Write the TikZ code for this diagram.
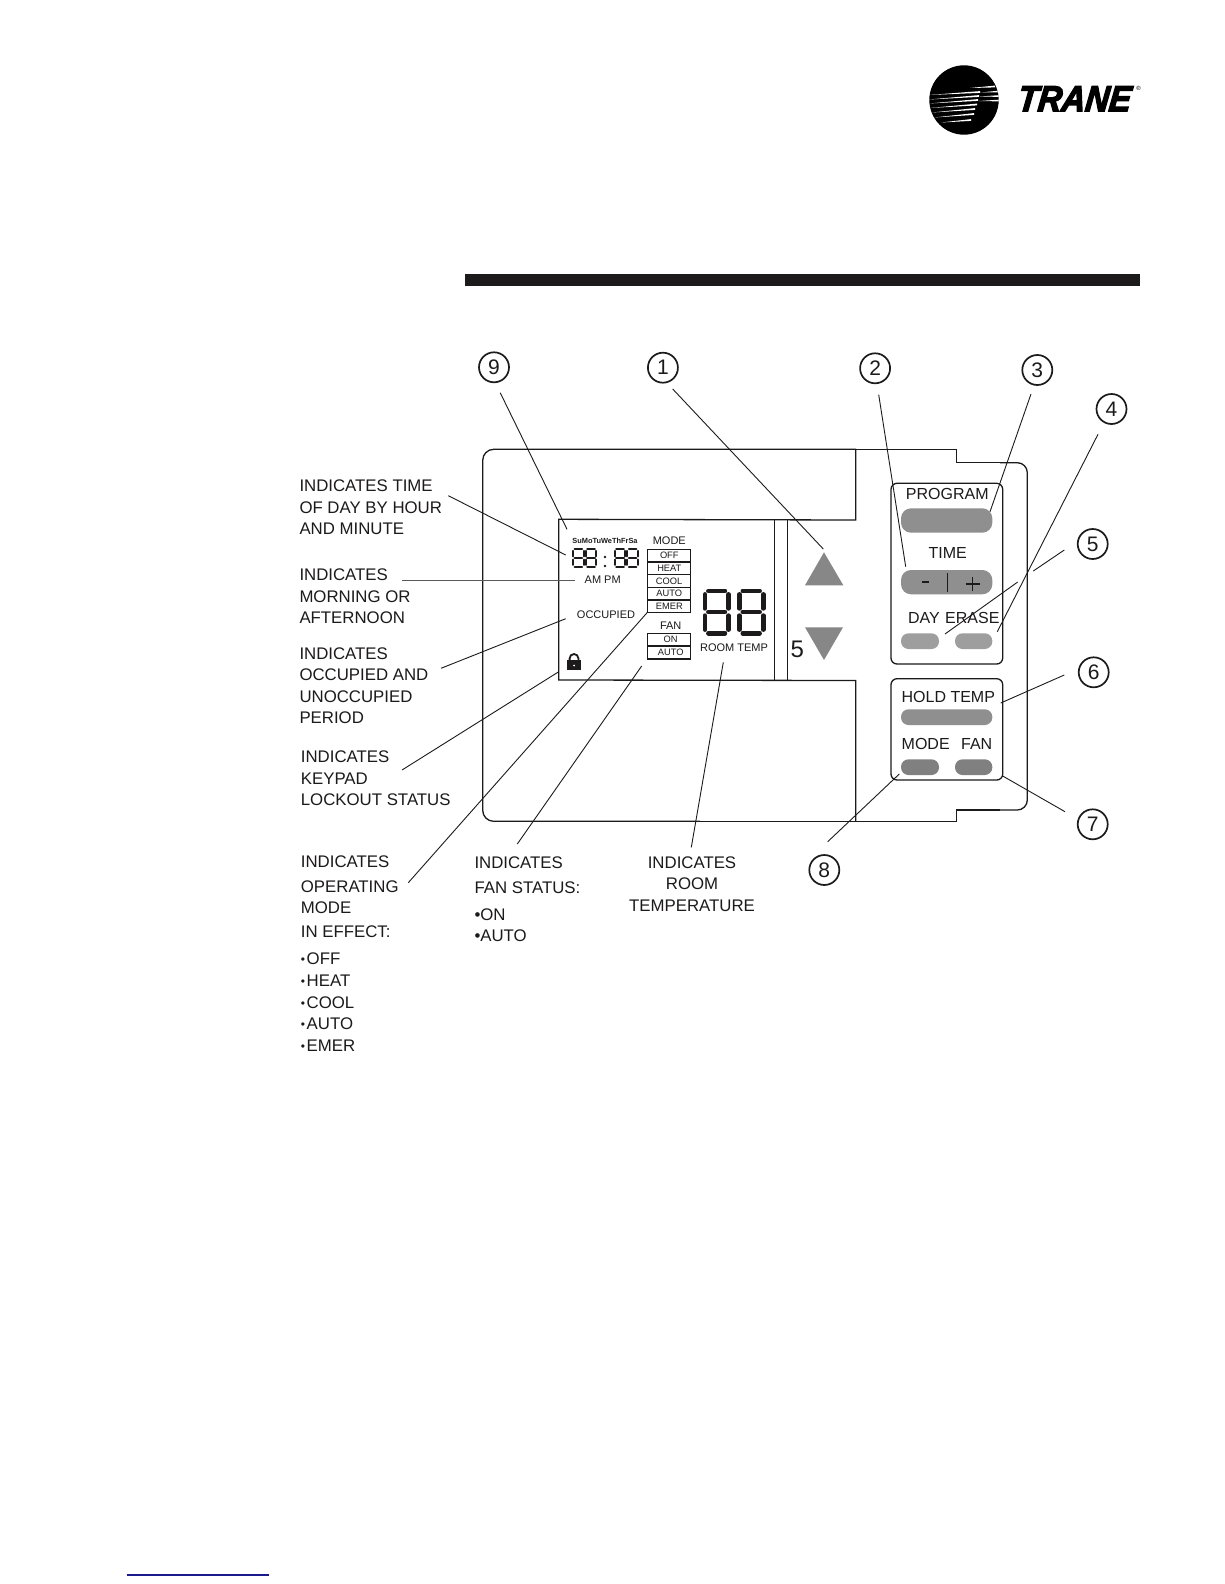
\documentclass[tikz,border=0pt]{standalone}
\usepackage{fontspec}
\setmainfont{Liberation Sans}
\newfontfamily\tranefont[BoldItalicFeatures={FakeBold=4,FakeSlant=0.12}]{Liberation Sans}
\usetikzlibrary{calc}
\definecolor{ink}{HTML}{1C1A1B}
\tikzset{
  lab/.style={anchor=base west,inner sep=0pt,text=ink,font=\fontsize{16.8}{20}\selectfont},
  labc/.style={anchor=base,inner sep=0pt,text=ink,font=\fontsize{16.8}{20}\selectfont},
  keytxt/.style={anchor=center,inner sep=0pt,text=ink,font=\fontsize{16}{18}\selectfont},
  lcdtxt/.style={anchor=center,inner sep=0pt,text=ink,font=\fontsize{11}{12}\selectfont},
  celltxt/.style={anchor=center,inner sep=0pt,text=ink,font=\fontsize{9.3}{10}\selectfont},
  callout/.style={circle,draw=ink,line width=1.7pt,minimum size=30pt,inner sep=0pt,text=ink,font=\fontsize{21}{22}\selectfont},
  leader/.style={draw=ink,line width=0.9pt},
  outline/.style={draw=ink,line width=1.3pt},
  keybtn/.style={fill=black!44,draw=none},
  keylight/.style={fill=black!38,draw=none},
  keydark/.style={fill=black!50,draw=none},
  arrowkey/.style={fill=black!47,draw=none},
}
\newcommand{\lab}[4]{\node[lab] (#1) at (#2,#3) {#4};}
\newcommand{\labc}[4]{\node[labc] (#1) at (#2,#3) {#4};}
\newcommand{\smallbul}{\raisebox{1.3pt}{\fontsize{12}{12}\selectfont •}\hspace{1.6pt}}
% seven segment digit: x, y, width, height, thickness, gap
\newcommand{\segdigit}[6]{%
  \draw[ink,line width=#5pt,line cap=round]
    ({#1+#6},{#2}) -- ({#1+#3-#6},{#2})
    ({#1+#6},{#2+#4/2}) -- ({#1+#3-#6},{#2+#4/2})
    ({#1+#6},{#2+#4}) -- ({#1+#3-#6},{#2+#4})
    ({#1},{#2+#6}) -- ({#1},{#2+#4/2-#6})
    ({#1+#3},{#2+#6}) -- ({#1+#3},{#2+#4/2-#6})
    ({#1},{#2+#4/2+#6}) -- ({#1},{#2+#4-#6})
    ({#1+#3},{#2+#4/2+#6}) -- ({#1+#3},{#2+#4-#6});}
\begin{document}
\begin{tikzpicture}[x=1pt,y=-1pt]
\useasboundingbox (0,0) rectangle (1224,1584);
\fill[white] (0,0) rectangle (1224,1584);

% logo
\begin{scope}
  \fill[black] (964,100) circle (34.7);
  \clip (964,100) circle (34.7);
  \foreach \xa/\ya/\xb/\yb in {
    929/95/980/92, 929/99.5/979/96, 929/103.5/978/100, 930/108/977/104.5,
    932/112.5/975/109, 934/117.5/974/114, 941/122.5/971/120,
    970/88/995/86.5, 980/92.5/1000/91.5, 980/96.5/1000/96, 979/101/1000/100.5}
    \fill[white] (\xa,\ya) -- (\xb,\yb-0.9) -- (\xb,\yb+0.9) -- cycle;
\end{scope}
\node[anchor=center,inner sep=0pt] (tranelogo) at (1073.5,98.8)
  {\scalebox{0.91}[1]{\tranefont\bfseries\itshape\fontsize{36}{36}\selectfont TRANE}};
\node[anchor=center,inner sep=0pt] (tranereg) at (1138.5,88.5) {\fontsize{6}{6}\selectfont ®};

% header bar
\fill[ink] (465,274) rectangle (1139.6,286);

% body outline
\draw[outline,rounded corners=11pt] (856,449.3) -- (482.7,449.3) -- (482.7,821.3) -- (700,821.3);
\draw[outline] (700,821.3) -- (956.7,821.3) -- (956.7,810) -- (1000,810);
\draw[outline,rounded corners=10pt] (1000,810) -- (1027.3,810) -- (1027.3,462.7) -- (1000,462.7);
\draw[outline] (1000,462.7) -- (956.7,462.7) -- (956.7,449.3) -- (856,449.3);
% LCD recess
\draw[outline] (855.7,449.3) -- (855.7,520) -- (558.7,519.3) -- (558.7,680) -- (855.7,680.5) -- (855.7,821.3);
\draw[outline] (774.7,520) -- (774.7,680);
\draw[outline] (787.7,520) -- (787.7,680);

% LCD content
\node[anchor=center,inner sep=0pt,text=ink,font=\fontsize{7.4}{8}\selectfont\bfseries] (days) at (605,540.7) {SuMoTuWeThFrSa};
\segdigit{573}{549.2}{10.8}{17.4}{1.9}{1.6}
\segdigit{585.6}{549.2}{10.8}{17.4}{1.9}{1.6}
\segdigit{614.6}{549.2}{10.8}{17.4}{1.9}{1.6}
\segdigit{627.3}{549.2}{10.8}{17.4}{1.9}{1.6}
\fill[ink] (605,557) circle (1.3) (605,566) circle (1.3);
\node[lcdtxt] (ampm) at (602.7,580) {AM PM};
\node[lcdtxt] (occ) at (606,614.7) {OCCUPIED};
\node[lcdtxt] (modehead) at (669.3,541) {MODE};
\draw[ink,line width=1.1pt] (647.7,549.3) rectangle (690.7,612.3);
\draw[ink,line width=1.1pt] (647.7,562) -- (690.7,562) (647.7,574.7) -- (690.7,574.7) (647.7,587.3) -- (690.7,587.3) (647.7,600) -- (690.7,600);
\node[celltxt] (off) at (669.3,555.7) {OFF};
\node[celltxt] (heat) at (669.3,568.4) {HEAT};
\node[celltxt] (cool) at (669,581) {COOL};
\node[celltxt] (auto) at (669.3,593.7) {AUTO};
\node[celltxt] (emer) at (669.3,606.2) {EMER};
\node[lcdtxt] (fanhead) at (670.7,625.7) {FAN};
\draw[ink,line width=1.1pt] (647.7,633.3) rectangle (690.7,659);
\draw[ink,line width=1.1pt] (647.7,646) -- (690.7,646);
\node[celltxt] (fon) at (670.7,639.7) {ON};
\node[celltxt] (fauto) at (670.7,652.6) {AUTO};
\segdigit{704.8}{590.8}{23.7}{42.4}{4.6}{3.6}
\segdigit{739.2}{590.8}{24}{42.4}{4.6}{3.6}
\node[lcdtxt] (roomtemp) at (734,647.3) {ROOM TEMP};
% lock
\fill[ink] (567.3,660) rectangle (580.7,670);
\draw[ink,line width=1.8pt] (569.6,660) -- (569.6,658.4) arc[start angle=180,end angle=360,radius=4.4] -- (578.4,660);
\fill[white] (574,665.5) circle (1);

% arrows
\fill[arrowkey] (824,552.3) -- (843.3,585.3) -- (805,585.3) -- cycle;
\fill[arrowkey] (805,627.3) -- (843,627.3) -- (824,660) -- cycle;
\node[anchor=center,inner sep=0pt,text=ink,font=\fontsize{24}{24}\selectfont] (five) at (797.3,649) {5};

% key panels
\draw[outline,rounded corners=6pt] (891,483.3) rectangle (1002.7,664);
\draw[outline,rounded corners=6pt] (891,678.7) rectangle (1002.7,780);
\fill[keybtn,rounded corners=10pt] (901,508.3) rectangle (992.3,532.7);
\fill[keybtn,rounded corners=10pt] (901,570) rectangle (992.3,594.3);
\fill[keylight,rounded corners=7.5pt] (901,633.3) rectangle (939,649);
\fill[keylight,rounded corners=7.5pt] (955,633.3) rectangle (992.3,649);
\fill[keybtn,rounded corners=7.5pt] (901,709.3) rectangle (992.3,725);
\fill[keydark,rounded corners=7.5pt] (901,759.3) rectangle (939,775);
\fill[keydark,rounded corners=7.5pt] (955,759.3) rectangle (992.3,775);
\node[keytxt] (kprogram) at (947.3,494.3) {PROGRAM};
\node[keytxt] (ktime) at (947.7,553.3) {TIME};
\node[keytxt] (kday) at (924,618.3) {DAY};
\node[keytxt] (kerase) at (972.3,618.3) {ERASE};
\node[keytxt] (khold) at (948.3,696.7) {HOLD TEMP};
\node[keytxt] (kmode) at (925.7,744.3) {MODE};
\node[keytxt] (kfan) at (976.7,744.3) {FAN};
\draw[ink,line width=1.4pt] (922,582) -- (929,582) (965.5,584) -- (980,584) (972.7,577) -- (972.7,591);
\draw[ink,line width=0.7pt] (947.3,573) -- (947.3,592);

% callouts
\node[callout] (c9) at (494,367.3) {9};
\node[callout] (c1) at (662.9,367.7) {1};
\node[callout] (c2) at (875.1,368.3) {2};
\node[callout] (c3) at (1037.3,370) {3};
\node[callout] (c4) at (1111.5,409) {4};
\node[callout] (c5) at (1092.7,544) {5};
\node[callout] (c6) at (1093.7,672.3) {6};
\node[callout] (c7) at (1092.7,824.3) {7};
\node[callout] (c8) at (824.3,870) {8};

% left labels
\lab{a1}{299.3}{491.7}{INDICATES TIME}
\lab{a2}{299.3}{513.3}{OF DAY BY HOUR}
\lab{a3}{299.3}{534.7}{AND MINUTE}
\lab{b1}{299.3}{580.7}{INDICATES}
\lab{b2}{299.3}{602.3}{MORNING OR}
\lab{b3}{299.3}{623.7}{AFTERNOON}
\lab{d1}{299.3}{659}{INDICATES}
\lab{d2}{299.3}{680.3}{OCCUPIED AND}
\lab{d3}{299.3}{702}{UNOCCUPIED}
\lab{d4}{299.3}{723.7}{PERIOD}
\lab{e1}{300.7}{762.7}{INDICATES}
\lab{e2}{300.7}{784.3}{KEYPAD}
\lab{e3}{300.7}{805.7}{LOCKOUT STATUS}
\lab{f1}{300.7}{867.7}{INDICATES}
\lab{f2}{300.7}{892}{OPERATING}
\lab{f3}{300.7}{913.3}{MODE}
\lab{f4}{300.7}{937.7}{IN EFFECT:}
\lab{f5}{300.7}{964.7}{\smallbul OFF}
\lab{f6}{300.7}{986.7}{\smallbul HEAT}
\lab{f7}{300.7}{1008.3}{\smallbul COOL}
\lab{f8}{300.7}{1029.7}{\smallbul AUTO}
\lab{f9}{300.7}{1051.3}{\smallbul EMER}
\lab{g1}{474.3}{868.3}{INDICATES}
\lab{g2}{474.3}{893}{FAN STATUS:}
\lab{g3}{474.3}{920}{•ON}
\lab{g4}{474.3}{941.3}{•AUTO}
\labc{h1}{692}{868}{INDICATES}
\labc{h2}{692}{889.7}{ROOM}
\labc{h3}{692}{911}{TEMPERATURE}

% leader ends
\coordinate (s9) at (500.2,392.7); \coordinate (t9) at (567,529.3);
\coordinate (s1) at (672.7,389);   \coordinate (t1) at (823.3,549);
\coordinate (s2) at (878.7,394.7); \coordinate (t2) at (905.7,566.7);
\coordinate (s3) at (1031,394);    \coordinate (t3) at (990,511.7);
\coordinate (s4) at (1098,434.3);  \coordinate (t4) at (997.3,631.7);
\coordinate (s5) at (1064.3,550);  \coordinate (m5) at (1033.3,571);
\coordinate (n5) at (1017.7,582);  \coordinate (t5) at (945,634);
\coordinate (s6) at (1064.3,675);  \coordinate (t6) at (1000.7,703);
\coordinate (s7) at (1065,811.7);  \coordinate (t7) at (1002.7,776);
\coordinate (s8) at (827.7,841.7); \coordinate (t8) at (899.3,774);
\coordinate (sa) at (448.3,495.7); \coordinate (ta) at (565.7,555);
\coordinate (sb) at (402.3,580.3); \coordinate (tb) at (575,580.3);
\coordinate (sd) at (441,668.3);   \coordinate (td) at (565.7,618.7);
\coordinate (se) at (402,770);     \coordinate (te) at (558.3,672);
\coordinate (sf) at (408.3,882.7); \coordinate (tf) at (647.7,612);
\coordinate (sg) at (517.3,844);   \coordinate (tg) at (641.7,666);
\coordinate (sh) at (691.3,847.3); \coordinate (th) at (723.3,662.3);
\draw[leader] (s9) -- (t9);
\draw[leader] (s1) -- (t1);
\draw[leader] (s2) -- (t2);
\draw[leader] (s3) -- (t3);
\draw[leader] (s4) -- (t4);
\draw[leader] (s5) -- (m5);
\draw[leader] (n5) -- (t5);
\draw[leader] (s6) -- (t6);
\draw[leader] (s7) -- (t7);
\draw[leader] (s8) -- (t8);
\draw[leader] (sa) -- (ta);
\draw[leader,draw=black!65,line width=0.7pt] (sb) -- (tb);
\draw[leader] (sd) -- (td);
\draw[leader] (se) -- (te);
\draw[leader] (sf) -- (tf);
\draw[leader] (sg) -- (tg);
\draw[leader] (sh) -- (th);

% footer rule
\draw[draw={rgb,255:red,26;green,26;blue,140},line width=1.2pt] (126.7,1575) -- (269,1575);
\end{tikzpicture}
\end{document}
